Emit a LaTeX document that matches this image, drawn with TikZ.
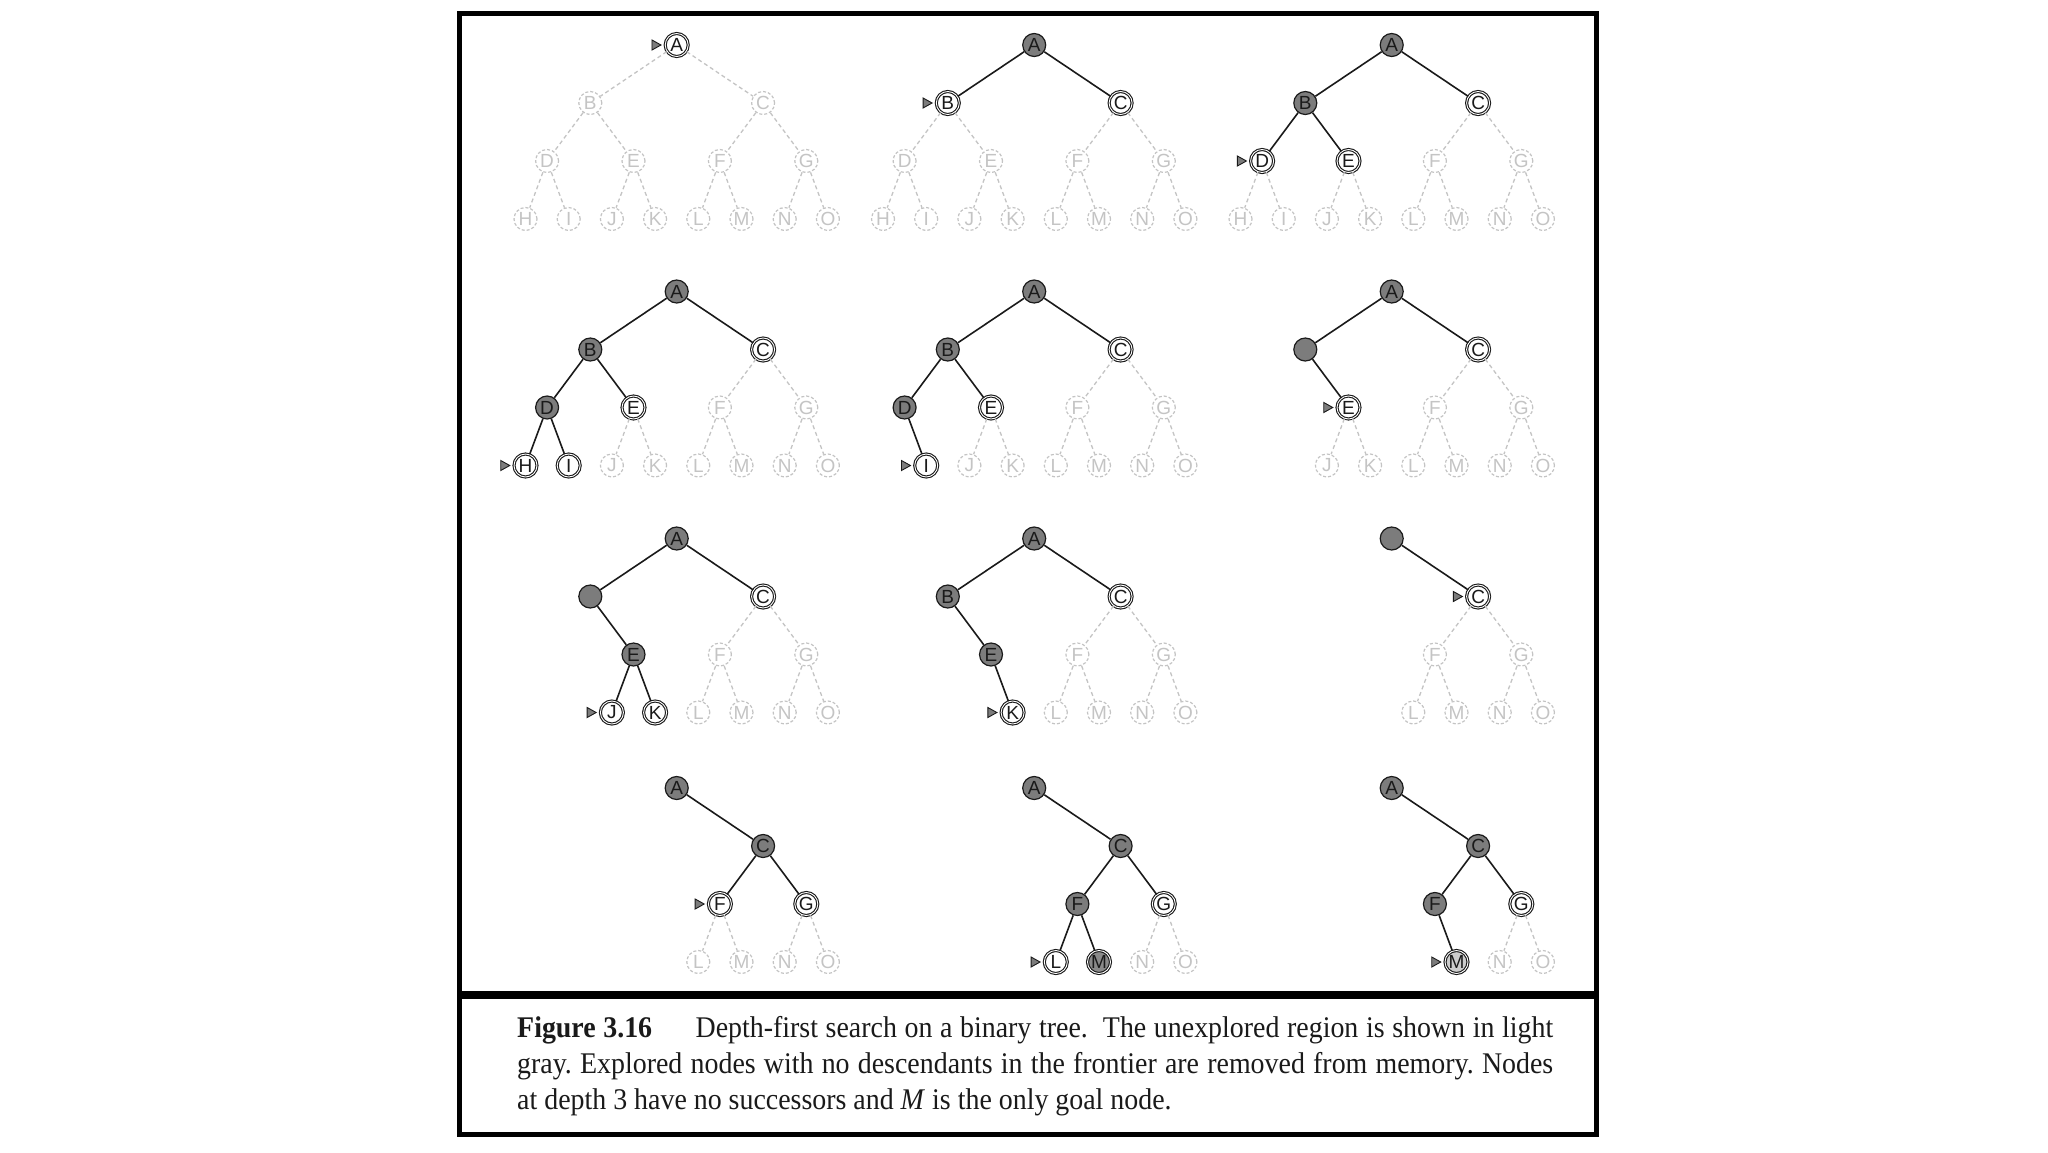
\documentclass[tikz,border=0pt]{standalone}
\usepackage{fontspec}
\setmainfont[FakeStretch=0.93]{Liberation Serif}
\newfontfamily\nodefont{Liberation Sans}
\usetikzlibrary{shapes.geometric}
\definecolor{unx}{HTML}{C4C4C4}
\definecolor{exg}{HTML}{7C7C7C}
\definecolor{goalg}{HTML}{8A8A8A}
\definecolor{goall}{HTML}{CCCCCC}
\definecolor{ink}{HTML}{1A1A1A}

% node positions relative to the root (px, y downward)
\def\dfsPA{0,0}
\def\dfsPB{-86.4,58}   \def\dfsPC{86.4,58}
\def\dfsPD{-129.6,116} \def\dfsPE{-43.2,116} \def\dfsPF{43.2,116} \def\dfsPG{129.6,116}
\def\dfsPH{-151.2,174} \def\dfsPI{-108,174}  \def\dfsPJ{-64.8,174} \def\dfsPK{-21.6,174}
\def\dfsPL{21.6,174}   \def\dfsPM{64.8,174}  \def\dfsPN{108,174}   \def\dfsPO{151.2,174}

\tikzset{
  tn/.style={circle, minimum size=23pt, inner sep=0pt, font=\nodefont\fontsize{19}{19}\selectfont},
  un/.style={tn, draw=unx, line width=1.2pt, dash pattern=on 3pt off 2pt, fill=white, text=unx},
  fr/.style={tn, draw=ink, line width=1.1pt, double=white, double distance=0.9pt, fill=white, text=ink},
  ex/.style={tn, draw=ink, line width=1.2pt, fill=exg, text=ink},
  rm/.style={ex},
  gm/.style={fr, fill=goalg},
  gl/.style={fr, fill=goall},
  eun/.style={draw=unx, line width=1.3pt, dash pattern=on 4pt off 3pt},
  efr/.style={draw=ink, line width=1.6pt},
  eex/.style={efr}, erm/.style={efr}, egm/.style={efr}, egl/.style={efr},
  mk/.style={isosceles triangle, isosceles triangle stretches, minimum height=9pt, minimum width=10pt,
             inner sep=0pt, fill=exg, draw=ink, line width=0.9pt},
  captext/.style={inner sep=0pt, text=ink, font=\fontsize{30}{36}\selectfont\frenchspacing},
  frameline/.style={draw=black, line width=5pt},
  divline/.style={draw=black, line width=8pt}
}

% #1 id, #2 x, #3 y, #4 root style, #5 root label, #6 list child/parent/style/label, #7 marked node
\newcommand\dfstree[7]{%
  \begin{scope}[shift={(#2,#3)}]
    \node[#4] (t#1A) at (0,0) {#5};
    \foreach \cn/\pn/\sn/\ln in {#6}{%
      \edef\dfstmp{\noexpand\node[\sn] (t#1\cn) at (\csname dfsP\cn\endcsname) {\ln};
                   \noexpand\draw[e\sn] (t#1\pn) -- (t#1\cn);}%
      \dfstmp
    }
    \node[mk, anchor=apex] (t#1mk) at ([xshift=-2.5pt]t#1#7.west) {};
  \end{scope}}

\begin{document}
\begin{tikzpicture}[x=1pt, y=-1pt]
  \useasboundingbox (0,0) rectangle (2048,1152);
  \fill[white] (0,0) rectangle (2048,1152);

  % row 1
  \dfstree{1}{676.7}{45}{fr}{A}{B/A/un/B, C/A/un/C, D/B/un/D, E/B/un/E, F/C/un/F, G/C/un/G,
     H/D/un/H, I/D/un/I, J/E/un/J, K/E/un/K, L/F/un/L, M/F/un/M, N/G/un/N, O/G/un/O}{A}
  \dfstree{2}{1034.2}{45}{ex}{A}{B/A/fr/B, C/A/fr/C, D/B/un/D, E/B/un/E, F/C/un/F, G/C/un/G,
     H/D/un/H, I/D/un/I, J/E/un/J, K/E/un/K, L/F/un/L, M/F/un/M, N/G/un/N, O/G/un/O}{B}
  \dfstree{3}{1391.7}{45}{ex}{A}{B/A/ex/B, C/A/fr/C, D/B/fr/D, E/B/fr/E, F/C/un/F, G/C/un/G,
     H/D/un/H, I/D/un/I, J/E/un/J, K/E/un/K, L/F/un/L, M/F/un/M, N/G/un/N, O/G/un/O}{D}
  % row 2
  \dfstree{4}{676.7}{291.5}{ex}{A}{B/A/ex/B, C/A/fr/C, D/B/ex/D, E/B/fr/E, F/C/un/F, G/C/un/G,
     H/D/fr/H, I/D/fr/I, J/E/un/J, K/E/un/K, L/F/un/L, M/F/un/M, N/G/un/N, O/G/un/O}{H}
  \dfstree{5}{1034.2}{291.5}{ex}{A}{B/A/ex/B, C/A/fr/C, D/B/ex/D, E/B/fr/E, F/C/un/F, G/C/un/G,
     I/D/fr/I, J/E/un/J, K/E/un/K, L/F/un/L, M/F/un/M, N/G/un/N, O/G/un/O}{I}
  \dfstree{6}{1391.7}{291.5}{ex}{A}{B/A/rm/{}, C/A/fr/C, E/B/fr/E, F/C/un/F, G/C/un/G,
     J/E/un/J, K/E/un/K, L/F/un/L, M/F/un/M, N/G/un/N, O/G/un/O}{E}
  % row 3
  \dfstree{7}{676.7}{538.5}{ex}{A}{B/A/rm/{}, C/A/fr/C, E/B/ex/E, F/C/un/F, G/C/un/G,
     J/E/fr/J, K/E/fr/K, L/F/un/L, M/F/un/M, N/G/un/N, O/G/un/O}{J}
  \dfstree{8}{1034.2}{538.5}{ex}{A}{B/A/ex/B, C/A/fr/C, E/B/ex/E, F/C/un/F, G/C/un/G,
     K/E/fr/K, L/F/un/L, M/F/un/M, N/G/un/N, O/G/un/O}{K}
  \dfstree{9}{1391.7}{538.5}{rm}{}{C/A/fr/C, F/C/un/F, G/C/un/G,
     L/F/un/L, M/F/un/M, N/G/un/N, O/G/un/O}{C}
  % row 4
  \dfstree{10}{676.7}{788}{ex}{A}{C/A/ex/C, F/C/fr/F, G/C/fr/G,
     L/F/un/L, M/F/un/M, N/G/un/N, O/G/un/O}{F}
  \dfstree{11}{1034.2}{788}{ex}{A}{C/A/ex/C, F/C/ex/F, G/C/fr/G,
     L/F/fr/L, M/F/gm/M, N/G/un/N, O/G/un/O}{L}
  \dfstree{12}{1391.7}{788}{ex}{A}{C/A/ex/C, F/C/ex/F, G/C/fr/G,
     M/F/gl/M, N/G/un/N, O/G/un/O}{M}

  % frame and divider
  \draw[frameline] (459.5,13.5) rectangle (1596.5,1134);
  \draw[divline] (459.5,995) -- (1596.5,995);

  % caption
  \node[captext, anchor=base west] (cap1) at (517,1037)
    {\makebox[1036pt][s]{\textbf{Figure 3.16}\hspace{1.45em}Depth-first search on a binary tree.\hspace{0.25em} The unexplored region is shown in light}};
  \node[captext, anchor=base west] (cap2) at (517,1073)
    {\makebox[1036pt][s]{gray. Explored nodes with no descendants in the frontier are removed from memory. Nodes}};
  \node[captext, anchor=base west] (cap3) at (517,1109)
    {at depth 3 have no successors and \textit{M} is the only goal node.};
\end{tikzpicture}
\end{document}
